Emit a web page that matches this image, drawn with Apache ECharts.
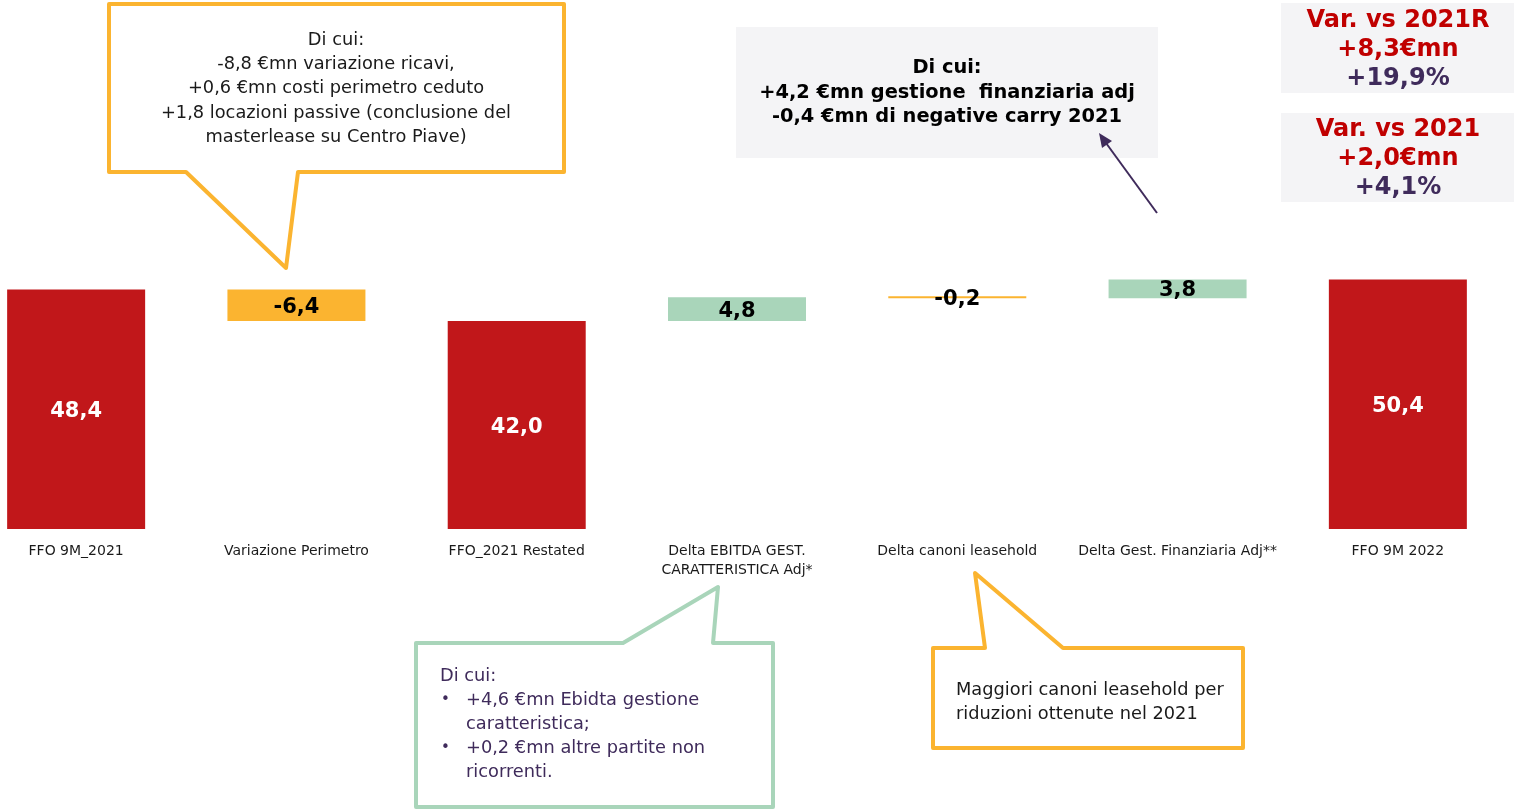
<!DOCTYPE html>
<html><head><meta charset="utf-8">
<script src="https://cdn.jsdelivr.net/npm/echarts@6/dist/echarts.min.js"></script>
<style>html,body{margin:0;padding:0;background:#fff}#c{width:1514px;height:810px}</style>
</head><body><div id="c"></div>
<script>
const categories = ['FFO 9M_2021','Variazione Perimetro','FFO_2021 Restated','Delta EBITDA GEST.\nCARATTERISTICA Adj*','Delta canoni leasehold','Delta Gest. Finanziaria Adj**','FFO 9M 2022'];
const values = [48.4, -6.4, 42.0, 4.8, -0.2, 3.8, 50.4];
const isTotal = [true, false, true, false, false, false, true];

const box1Lines = ['Di cui:', '-8,8 €mn variazione ricavi,', '+0,6 €mn costi perimetro ceduto', '+1,8 locazioni passive (conclusione del', 'masterlease su Centro Piave)'];
const box2Lines = ['Di cui:', '+4,2 €mn gestione  finanziaria adj', '-0,4 €mn di negative carry 2021'];
const var1Lines = ['Var. vs 2021R', '+8,3€mn', '+19,9%'];
const var2Lines = ['Var. vs 2021', '+2,0€mn', '+4,1%'];
const greenHead = 'Di cui:';
const greenBullets = [['+4,6 €mn Ebidta gestione', 'caratteristica;'], ['+0,2 €mn altre partite non', 'ricorrenti.']];
const box3Lines = ['Maggiori canoni leasehold per', 'riduzioni ottenute nel 2021'];

const RED = '#C1171A', ORANGE = '#FBB430', GREEN = '#A9D5BA', PURPLE = '#3F2B5B', DARK = '#1A1A1A';
const REG = '"DejaVu Sans", sans-serif';
const BOLD = '"DejaVu Sans", sans-serif';

// waterfall bases from the data
const bases = [], heights = [];
let level = 0;
values.forEach((v, i) => {
  if (isTotal[i]) { bases.push(0); heights.push(v); level = v; }
  else { bases.push(Math.min(level, level + v)); heights.push(Math.abs(v)); level = level + v; }
});
const fmt = v => (v < 0 ? '-' : '') + Math.abs(v).toFixed(1).replace('.', ',');

const valueData = heights.map((h, i) => ({
  value: h,
  itemStyle: { color: isTotal[i] ? RED : (values[i] < 0 ? ORANGE : GREEN) },
  label: { color: isTotal[i] ? '#FFFFFF' : '#000000' }
}));

function txt(t, x, y, font, fill, align) {
  return { type: 'text', z: 20, style: { text: t, x: x, y: y, font: font, fill: fill, align: align || 'center', verticalAlign: 'middle', textAlign: align || 'center', textVerticalAlign: 'middle' } };
}

const g = [];
// orange callout 1
g.push({ type: 'polygon', z: 10, shape: { points: [[109,4],[564,4],[564,172],[298,172],[286,268],[186,172],[109,172]] }, style: { fill: '#fff', stroke: ORANGE, lineWidth: 4, lineJoin: 'round' } });
box1Lines.forEach((l, i) => g.push(txt(l, 336, 40 + i * 24.3, '17.8px ' + REG, DARK)));
// gray box
g.push({ type: 'rect', z: 10, shape: { x: 736, y: 27, width: 422, height: 131 }, style: { fill: '#F4F4F6' } });
box2Lines.forEach((l, i) => g.push(txt(l, 947, 68 + i * 24.5, 'bold 19.4px ' + BOLD, '#000')));
// arrow
g.push({ type: 'line', z: 20, shape: { x1: 1157, y1: 213, x2: 1106, y2: 143 }, style: { stroke: PURPLE, lineWidth: 2 } });
g.push({ type: 'polygon', z: 20, shape: { points: [[1099,133],[1112,141],[1102,148]] }, style: { fill: PURPLE } });
// var boxes
g.push({ type: 'rect', z: 10, shape: { x: 1281, y: 3, width: 233, height: 90 }, style: { fill: '#F4F4F6' } });
g.push({ type: 'rect', z: 10, shape: { x: 1281, y: 113, width: 233, height: 89 }, style: { fill: '#F4F4F6' } });
var1Lines.forEach((l, i) => g.push(txt(l, 1398, 21 + i * 29, 'bold 24px ' + BOLD, i === 2 ? PURPLE : '#C00000')));
var2Lines.forEach((l, i) => g.push(txt(l, 1398, 130 + i * 29, 'bold 24px ' + BOLD, i === 2 ? PURPLE : '#C00000')));
// green callout
g.push({ type: 'polygon', z: 10, shape: { points: [[416,643],[623,643],[718,587],[713,643],[773,643],[773,807],[416,807]] }, style: { fill: '#fff', stroke: GREEN, lineWidth: 4, lineJoin: 'round' } });
g.push(txt(greenHead, 440, 676, '17.8px ' + REG, PURPLE, 'left'));
greenBullets.forEach((b, j) => {
  const y0 = 700 + j * 48.5;
  g.push(txt('•', 441, y0, '15px ' + REG, PURPLE, 'left'));
  b.forEach((l, k) => g.push(txt(l, 466, y0 + k * 24.3, '17.8px ' + REG, PURPLE, 'left')));
});
// orange callout 2
g.push({ type: 'polygon', z: 10, shape: { points: [[933,648],[985,648],[975,573],[1063,648],[1243,648],[1243,748],[933,748]] }, style: { fill: '#fff', stroke: ORANGE, lineWidth: 4, lineJoin: 'round' } });
box3Lines.forEach((l, i) => g.push(txt(l, 956, 690 + i * 24.3, '17.8px ' + REG, DARK, 'left')));

const chart = echarts.init(document.getElementById('c'), null, { renderer: 'canvas' });
chart.setOption({
  animation: false,
  backgroundColor: '#fff',
  grid: { left: -34, right: 6, top: 34, bottom: 281, containLabel: false, outerBoundsMode: 'none' },
  xAxis: {
    type: 'category', data: categories,
    axisLine: { show: false }, axisTick: { show: false },
    axisLabel: { interval: 0, margin: 13, fontSize: 14, lineHeight: 19, color: DARK, fontFamily: REG }
  },
  yAxis: { type: 'value', min: 0, max: 100, show: false, splitLine: { show: false } },
  series: [
    { type: 'bar', stack: 'w', data: bases, barWidth: 138, itemStyle: { color: 'rgba(0,0,0,0)' }, silent: true },
    { type: 'bar', stack: 'w', data: valueData, barWidth: 138, barMinHeight: 2,
      label: { show: true, position: 'inside', offset: [0, 2], fontSize: 21, fontWeight: 'bold', fontFamily: BOLD,
        formatter: p => fmt(values[p.dataIndex]) } }
  ],
  graphic: { elements: g }
});
</script></body></html>
